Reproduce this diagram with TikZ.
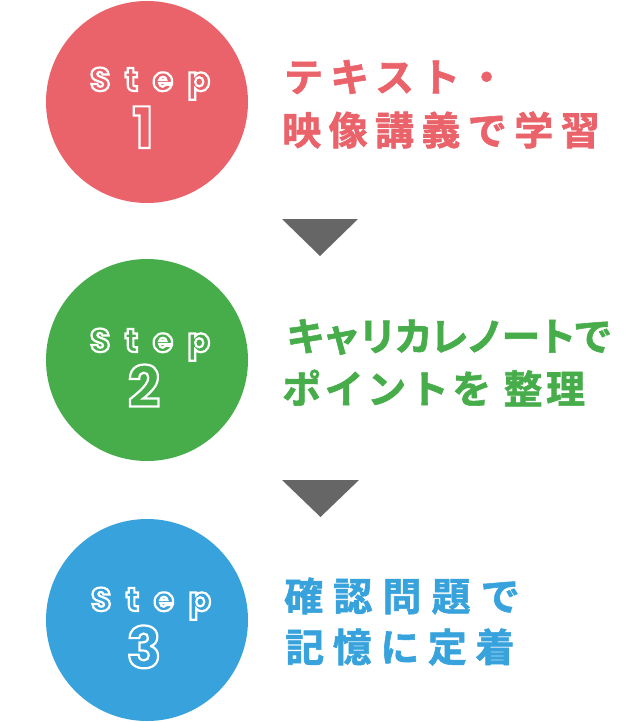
\documentclass[tikz,border=0pt]{standalone}
\usepackage{fontspec}
\newfontfamily\jpfont[FakeBold=1.5]{Noto Sans CJK JP Bold}
\newfontfamily\stepfont[LetterSpace=44]{Poppins Bold}
\newfontfamily\numfont{Poppins Bold}
\definecolor{cred}{HTML}{EA636A}
\definecolor{cgreen}{HTML}{46AD4A}
\definecolor{cblue}{HTML}{37A2DB}
\definecolor{cgrey}{HTML}{666666}
\newcommand\otext[2]{\textcolor{#1}{\special{pdf:literal direct 2 Tr 2.2 w 1 1 1 RG}#2\special{pdf:literal direct 0 Tr}}}
\tikzset{
  stepcircle/.style={circle, minimum size=202pt, inner sep=0pt, draw=none},
  steplabel/.style={anchor=base, inner sep=0pt, font=\stepfont\fontsize{33}{33}\selectfont},
  stepnum/.style={anchor=base, inner sep=0pt, font=\numfont\fontsize{57}{57}\selectfont},
  jptext/.style={anchor=west, inner sep=0pt, font=\jpfont\fontsize{39}{39}\selectfont},
  arrowtri/.style={fill=cgrey, draw=none}
}
\begin{document}
\begin{tikzpicture}[x=1pt,y=-1pt]
\useasboundingbox (0,0) rectangle (640,722);
% circles
\node[stepcircle, fill=cred]   (c1) at (147,102) {};
\node[stepcircle, fill=cgreen] (c2) at (147,360) {};
\node[stepcircle, fill=cblue]  (c3) at (147,620) {};
% step labels
\node[steplabel] (s1) at (150,91)  {\otext{cred}{Step}};
\node[steplabel] (s2) at (150,352) {\otext{cgreen}{Step}};
\node[steplabel] (s3) at (151,611) {\otext{cblue}{Step}};
\node[stepnum] (n1) at (143,148) {\otext{cred}{1}};
\node[stepnum] (n2) at (144,407) {\otext{cgreen}{2}};
\node[stepnum] (n3) at (144,668) {\otext{cblue}{3}};
% texts
\node[jptext, text=cred] (t1a) at (284,77) {\addfontfeatures{LetterSpace=18}テキスト・};
\node[jptext, text=cred] (t1b) at (282,130) {\addfontfeatures{LetterSpace=19}映像講義で学習};
\node[jptext, text=cgreen] (t2a) at (286,337) {\addfontfeatures{LetterSpace=-8}キャリカレノートで};
\node[jptext, text=cgreen] (t2b) at (282,388) {\addfontfeatures{LetterSpace=9}ポイントを 整理};
\node[jptext, text=cblue] (t3a) at (284,596) {\addfontfeatures{LetterSpace=26}確認問題で};
\node[jptext, text=cblue] (t3b) at (285,647) {\addfontfeatures{LetterSpace=22}記憶に定着};
% arrows
\coordinate (a1l) at (282,219);
\coordinate (a1r) at (358,219);
\coordinate (a1b) at (320,256);
\coordinate (a2l) at (282,480);
\coordinate (a2r) at (359,480);
\coordinate (a2b) at (320.5,517);
\fill[arrowtri] (a1l) -- (a1r) -- (a1b) -- cycle;
\fill[arrowtri] (a2l) -- (a2r) -- (a2b) -- cycle;
\end{tikzpicture}
\end{document}
